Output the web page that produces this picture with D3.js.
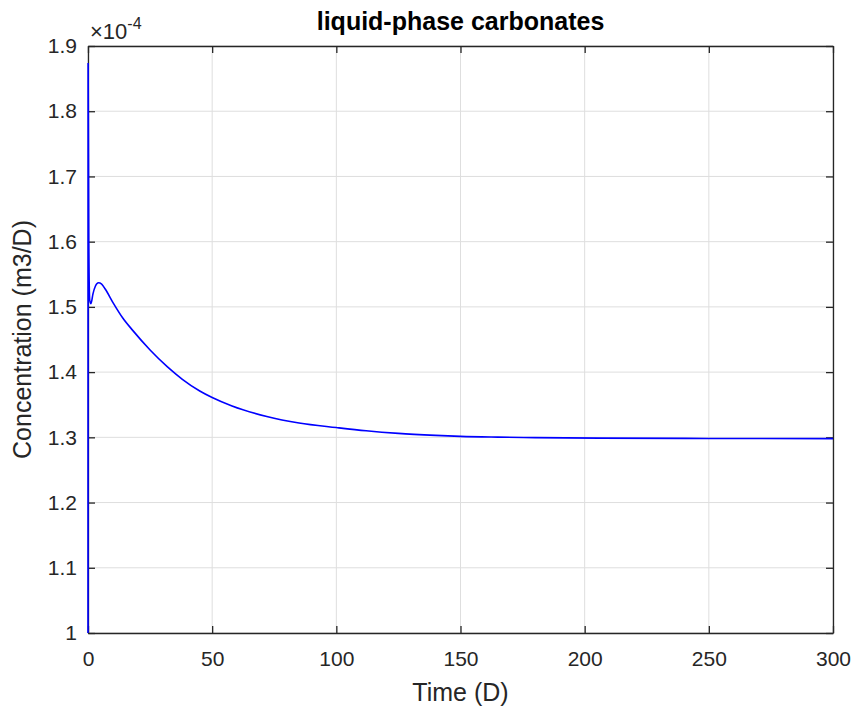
<!DOCTYPE html>
<html>
<head>
<meta charset="utf-8">
<script src="https://cdn.jsdelivr.net/npm/d3@7"></script>
<style>
  body { margin: 0; background: #fff; }
  text { font-family: "Liberation Sans", Arial, Helvetica, sans-serif; }
</style>
</head>
<body>
<div id="chart"></div>
<script>
// Time (D) and concentration (m3/D)
var times = [0, 0.05, 0.3, 0.7, 1.2, 2, 3, 4.2, 5.5, 7, 10, 14, 18, 25, 32, 38, 45, 50, 58, 72, 85, 100, 112, 125, 140, 150, 165, 180, 206, 250, 300]
var concentration = [1.0e-4, 1.874e-4, 1.6e-4, 1.51e-4, 1.505e-4, 1.52e-4, 1.532e-4, 1.537e-4, 1.535e-4, 1.527e-4, 1.507e-4, 1.483e-4, 1.464e-4, 1.434e-4, 1.408e-4, 1.389e-4, 1.371e-4, 1.361e-4, 1.348e-4, 1.332e-4, 1.322e-4, 1.315e-4, 1.310e-4, 1.306e-4, 1.303e-4, 1.3015e-4, 1.3003e-4, 1.2995e-4, 1.2988e-4, 1.2983e-4, 1.298e-4]
var xTicks = [0, 50, 100, 150, 200, 250, 300]
var yTicks = [1.0e-4, 1.1e-4, 1.2e-4, 1.3e-4, 1.4e-4, 1.5e-4, 1.6e-4, 1.7e-4, 1.8e-4, 1.9e-4]
var yExponent = -4

var W = 853
var H = 709
var margin = { top: 46, left: 88, right: 20, bottom: 76 }
var width = W - margin.left - margin.right
var height = H - margin.top - margin.bottom
var axisColor = '#262626'
var tickLen = 7
var tickFont = 21
var labelFont = 25

var svg = d3
  .select('#chart')
  .append('svg')
  .attr('width', W)
  .attr('height', H)

var g = svg.append('g').attr('transform', `translate(${margin.left},${margin.top})`)

var x = d3.scaleLinear().domain([0, 300]).range([0, width])
var y = d3.scaleLinear().domain([1.0e-4, 1.9e-4]).range([height, 0])
var scaleDiv = Math.pow(10, yExponent)

// grid
g.append('g')
  .selectAll('line')
  .data(xTicks)
  .enter()
  .append('line')
  .attr('x1', d => x(d))
  .attr('x2', d => x(d))
  .attr('y1', 0)
  .attr('y2', height)
  .attr('stroke', '#dedede')
g.append('g')
  .selectAll('line')
  .data(yTicks)
  .enter()
  .append('line')
  .attr('x1', 0)
  .attr('x2', width)
  .attr('y1', d => y(d))
  .attr('y2', d => y(d))
  .attr('stroke', '#dedede')

// box, ticks inward on all four sides (MATLAB style)
var xAxisB = d3.axisBottom(x).tickValues(xTicks).tickSizeInner(-tickLen).tickSizeOuter(0).tickPadding(18).tickFormat(d3.format('d'))
var xAxisT = d3.axisTop(x).tickValues(xTicks).tickSizeInner(-tickLen).tickSizeOuter(0).tickFormat('')
var yAxisL = d3.axisLeft(y).tickValues(yTicks).tickSizeInner(-tickLen).tickSizeOuter(0).tickPadding(11)
  .tickFormat(d => d3.format('~g')(+(d / scaleDiv).toFixed(3)))
var yAxisR = d3.axisRight(y).tickValues(yTicks).tickSizeInner(-tickLen).tickSizeOuter(0).tickFormat('')

function style(sel) {
  sel.selectAll('path').attr('stroke', axisColor).attr('stroke-width', 1.3)
  sel.selectAll('line').attr('stroke', axisColor).attr('stroke-width', 1.3)
  sel.selectAll('text').attr('fill', '#262626').attr('font-size', tickFont)
}

g.append('g').attr('transform', `translate(0,${height})`).call(xAxisB).call(style)
g.append('g').call(xAxisT).call(style)
g.append('g').call(yAxisL).call(style)
g.append('g').attr('transform', `translate(${width},0)`).call(yAxisR).call(style)

// the data line sits on top of the box
var line = d3
  .line()
  .x((d, i) => x(times[i]))
  .y(d => y(d))
  .curve(d3.curveMonotoneX)

g.append('path')
  .datum(concentration)
  .attr('d', line)
  .attr('fill', 'none')
  .attr('stroke', '#0000ff')
  .attr('stroke-width', 1.6)

// exponent label
var expText = g.append('text')
  .attr('x', 2)
  .attr('y', -7)
  .attr('font-size', 22)
  .attr('fill', '#262626')
expText.append('tspan').text('\u00d710')
expText.append('tspan').attr('dy', -10).attr('font-size', 16).text(yExponent)

// title and axis labels
svg.append('text')
  .attr('x', margin.left + width / 2)
  .attr('y', 30)
  .attr('text-anchor', 'middle')
  .attr('font-size', labelFont)
  .attr('font-weight', 'bold')
  .attr('fill', '#000')
  .text('liquid-phase carbonates')

svg.append('text')
  .attr('x', margin.left + width / 2)
  .attr('y', 701)
  .attr('text-anchor', 'middle')
  .attr('font-size', labelFont)
  .attr('fill', '#262626')
  .text('Time (D)')

svg.append('text')
  .attr('transform', `translate(31,${margin.top + height / 2}) rotate(-90)`)
  .attr('text-anchor', 'middle')
  .attr('font-size', labelFont)
  .attr('fill', '#262626')
  .text('Concentration (m3/D)')
</script>
</body>
</html>
